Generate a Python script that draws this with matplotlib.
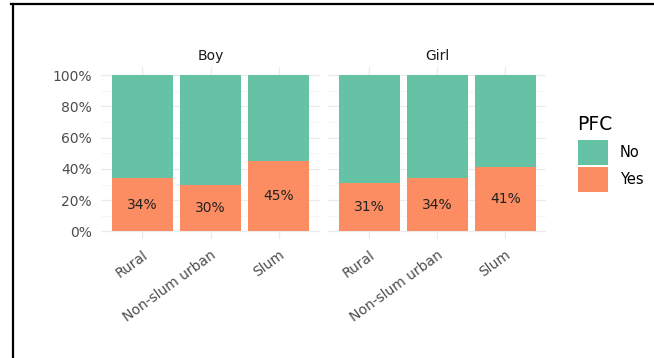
import matplotlib
matplotlib.use("Agg")
import matplotlib.pyplot as plt
from matplotlib.patches import Patch
from matplotlib.lines import Line2D
import numpy as np

plt.rcParams['font.family'] = ['DejaVu Sans']

categories = ["Rural", "Non-slum urban", "Slum"]
panels = ["Boy", "Girl"]
yes_boy = [34, 30, 45]
yes_girl = [31, 34, 41]
yes_values = {"Boy": yes_boy, "Girl": yes_girl}
y_ticks = [0, 20, 40, 60, 80, 100]
legend_labels = ["No", "Yes"]
col_no = "#66C2A5"
col_yes = "#FC8D62"

W, H = 654, 358
fig = plt.figure(figsize=(W / 100, H / 100), dpi=100)

def fx(px):
    return px / W

def fy(py):
    return 1 - py / H

panel_px = [(101.4, 319.6), (328.4, 546.0)]
top_px, bot_px = 67.2, 239.3

for i, (name, (l, r)) in enumerate(zip(panels, panel_px)):
    ax = fig.add_axes([fx(l), fy(bot_px), fx(r) - fx(l), fy(top_px) - fy(bot_px)])
    yes = np.array(yes_values[name]) / 100.0
    no = 1 - yes
    x = np.arange(len(categories))
    ax.bar(x, yes, width=0.9, color=col_yes, zorder=2)
    ax.bar(x, no, bottom=yes, width=0.9, color=col_no, zorder=2)
    for xi, v in zip(x, yes):
        ax.text(xi, v / 2, f"{round(v * 100)}%", ha="center", va="center",
                fontsize=10, color="#222222", zorder=3)
    ax.set_xlim(-0.6, 2.6)
    ax.set_ylim(-0.05, 1.05)
    ax.set_yticks(np.array(y_ticks) / 100)
    ax.set_yticks(np.arange(0.1, 1.0, 0.2), minor=True)
    ax.set_xticks(x)
    ax.set_xticklabels(categories, rotation=36, ha="right", va="top",
                       rotation_mode="anchor", fontsize=10, color="#4D4D4D")
    if i == 0:
        ax.set_yticklabels([f"{t}%" for t in y_ticks], fontsize=10, color="#4D4D4D")
    else:
        ax.set_yticklabels([])
    ax.tick_params(axis="y", which="both", length=0, pad=7)
    ax.tick_params(axis="x", which="both", length=0, pad=6)
    ax.grid(True, which="major", color="#EBEBEB", linewidth=0.9, zorder=0)
    ax.grid(True, which="minor", axis="y", color="#F3F3F3", linewidth=0.5, zorder=0)
    ax.set_axisbelow(True)
    for s in ax.spines.values():
        s.set_visible(False)
    ax.set_title(name, fontsize=10, color="#1A1A1A", pad=5)

handles = [Patch(facecolor=col_no, edgecolor="none", label=legend_labels[0]),
           Patch(facecolor=col_yes, edgecolor="none", label=legend_labels[1])]
fs_leg = 10.5
fs_px = fs_leg * 100 / 72
leg = fig.legend(handles=handles, loc="upper left",
                 bbox_to_anchor=(fx(578), fy(140)), frameon=False,
                 fontsize=fs_leg, handlelength=30 / fs_px,
                 handleheight=((25 / fs_px) - 0.245) / 0.65,
                 labelspacing=2 / fs_px, handletextpad=12 / fs_px,
                 borderpad=0, borderaxespad=0)
fig.text(fx(577), fy(130), "PFC", fontsize=13.5, color="black",
         ha="left", va="baseline")

# outer frame lines (top and left) as in the screenshot
fig.add_artist(Line2D([fx(11), 1], [fy(4.3), fy(4.3)], color="black", linewidth=1.6))
fig.add_artist(Line2D([fx(12.8), fx(12.8)], [fy(3.5), 0], color="black", linewidth=1.6))

fig.savefig("out.png", dpi=100)
